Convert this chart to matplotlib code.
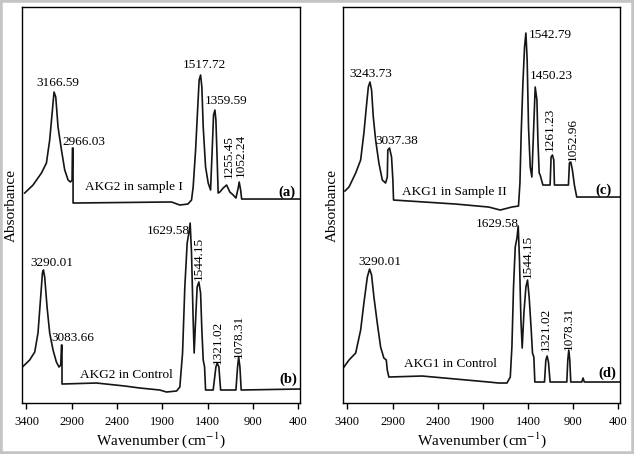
import numpy as np
import matplotlib.pyplot as plt
from matplotlib.patches import Rectangle

plt.rcParams['font.family'] = 'Liberation Serif'
plt.rcParams['mathtext.fontset'] = 'stix'

# (a) AKG2 in sample I
wn_a = [3419, 3327, 3234, 3179, 3143, 3113, 3095, 3076, 3051, 3013, 2977, 2940, 2914, 2896,
        2892, 2885, 2885, 1854, 1798, 1707, 1618, 1578, 1560, 1533, 1511, 1494, 1478, 1464,
        1449, 1423, 1394, 1368, 1350, 1335, 1320, 1309, 1295, 1284, 1265, 1229, 1191, 1155,
        1118, 1088, 1063, 1052, 1036, 1025, 381]
ab_a = [2.10, 2.18, 2.30, 2.40, 2.63, 2.93, 3.11, 3.06, 2.76, 2.53, 2.33, 2.23, 2.21, 2.23,
        2.55, 2.55, 2.00, 2.01, 2.01, 1.98, 1.99, 2.03, 2.16, 2.53, 2.93, 3.23, 3.28, 3.16,
        2.76, 2.36, 2.20, 2.13, 2.53, 2.88, 2.93, 2.83, 2.43, 2.10, 2.11, 2.15, 2.18, 2.11,
        2.08, 2.05, 2.15, 2.21, 2.13, 2.04, 2.04]

# (b) AKG2 in Control
wn_b = [3444, 3364, 3308, 3272, 3245, 3223, 3212, 3198, 3172, 3143, 3106, 3069, 3040, 3021,
        3013, 3007, 3007, 2627, 2314, 2149, 1928, 1854, 1743, 1707, 1677, 1652, 1626, 1607,
        1593, 1578, 1560, 1549, 1533, 1516, 1497, 1478, 1464, 1449, 1434, 1423, 1339, 1309,
        1295, 1276, 1257, 1088, 1070, 1058, 1044, 1030, 389]
ab_b = [0.36, 0.43, 0.51, 0.70, 1.03, 1.30, 1.33, 1.26, 0.96, 0.70, 0.53, 0.41, 0.36, 0.38,
        0.58, 0.58, 0.19, 0.20, 0.17, 0.15, 0.13, 0.11, 0.12, 0.16, 0.50, 1.16, 1.60, 1.70,
        1.80, 1.50, 0.83, 0.50, 0.83, 1.16, 1.21, 1.10, 0.73, 0.43, 0.36, 0.13, 0.13, 0.36,
        0.40, 0.36, 0.13, 0.13, 0.36, 0.46, 0.36, 0.13, 0.14]

# (c) AKG1 in Sample II
wn_c = [3427, 3382, 3308, 3253, 3217, 3190, 3168, 3150, 3132, 3113, 3087, 3051, 3013, 2977,
        2958, 2952, 2933, 2911, 2896, 2889, 2204, 1836, 1707, 1578, 1505, 1489, 1475, 1456,
        1438, 1423, 1409, 1394, 1375, 1357, 1339, 1320, 1301, 1290, 1276, 1265, 1235, 1155,
        1144, 1129, 1114, 1107, 952, 941, 926, 908, 886, 860, 370]
ab_c = [2.12, 2.16, 2.30, 2.43, 2.70, 2.96, 3.16, 3.21, 3.13, 2.86, 2.63, 2.40, 2.23, 2.20,
        2.26, 2.53, 2.55, 2.46, 2.23, 2.03, 1.99, 1.96, 1.93, 1.96, 1.97, 2.20, 2.70, 3.20,
        3.56, 3.70, 3.43, 2.76, 2.36, 2.26, 2.70, 3.16, 3.03, 2.63, 2.30, 2.28, 2.18, 2.18,
        2.46, 2.48, 2.43, 2.18, 2.18, 2.40, 2.41, 2.33, 2.18, 2.06, 2.06]

# (d) AKG1 in Control
wn_d = [3438, 3382, 3308, 3253, 3217, 3179, 3154, 3132, 3106, 3069, 3032, 2996, 2969, 2958,
        2941, 2572, 2204, 1836, 1726, 1633, 1596, 1578, 1560, 1541, 1522, 1508, 1494, 1478,
        1464, 1445, 1423, 1405, 1387, 1364, 1350, 1335, 1324, 1217, 1202, 1188, 1173, 1155,
        970, 959, 948, 937, 926, 804, 790, 776, 370]
ab_d = [0.36, 0.43, 0.50, 0.73, 1.00, 1.26, 1.34, 1.28, 1.06, 0.80, 0.56, 0.45, 0.43, 0.33,
        0.26, 0.27, 0.24, 0.21, 0.20, 0.20, 0.26, 0.56, 1.16, 1.56, 1.65, 1.77, 1.43, 0.83,
        0.55, 0.90, 1.16, 1.23, 1.06, 0.73, 0.50, 0.46, 0.21, 0.21, 0.43, 0.47, 0.41, 0.21,
        0.21, 0.43, 0.53, 0.43, 0.21, 0.21, 0.25, 0.21, 0.21]

ticks = [3400, 2900, 2400, 1900, 1400, 900, 400]

fig = plt.figure(figsize=(6.34, 4.54), dpi=100)
fig.patches.append(Rectangle((0, 0), 1, 1, transform=fig.transFigure, fill=False,
                             edgecolor='#c4c4c4', linewidth=4))

ax1 = fig.add_axes([0.0352, 0.1123, 0.4380, 0.8722])
ax2 = fig.add_axes([0.5415, 0.1123, 0.4364, 0.8722])

for ax in (ax1, ax2):
    ax.set_xlim(3445, 381)
    ax.set_ylim(0, 3.96)
    ax.set_yticks([])
    ax.set_xticks(ticks)
    ax.tick_params(axis='x', direction='out', length=4, width=1, labelsize=9, pad=5)
    for s in ax.spines.values():
        s.set_linewidth(1)
    ax.set_xlabel('Wavenumber (cm$^{-1}$)', fontsize=11, labelpad=2)
    ax.set_ylabel('Absorbance', fontsize=11, labelpad=3)

ax1.plot(wn_a, ab_a, color='#151515', lw=1.2)
ax1.plot(wn_b, ab_b, color='#151515', lw=1.2)
ax2.plot(wn_c, ab_c, color='#151515', lw=1.2)
ax2.plot(wn_d, ab_d, color='#151515', lw=1.2)

fs = 9.5
kw = dict(fontsize=fs, ha='center', va='center')
kv = dict(fontsize=fs, ha='center', va='center', rotation=90)

# panel (a)/(b) annotations
ax1.text(3051, 3.20, '3166.59', **kw)
ax1.text(2767, 2.61, '2966.03', **kw)
ax1.text(1431, 3.38, '1517.72', **kw)
ax1.text(1199, 3.02, '1359.59', **kw)
ax1.text(1166, 2.46, '1255.45', **kv)
ax1.text(1036, 2.48, '1052.24', **kv)
ax1.text(2215, 2.16, 'AKG2 in sample I', **kw)
ax1.text(528, 2.11, '(a)', fontsize=10.5, fontweight='bold', ha='center', va='center')
ax1.text(3121, 1.40, '3290.01', **kw)
ax1.text(2890, 0.65, '3083.66', **kw)
ax1.text(1839, 1.72, '1629.58', **kw)
ax1.text(1497, 1.45, '1544.15', **kv)
ax1.text(1290, 0.61, '1321.02', **kv)
ax1.text(1055, 0.67, '1078.31', **kv)
ax1.text(2292, 0.28, 'AKG2 in Control', **kw)
ax1.text(514, 0.24, '(b)', fontsize=10.5, fontweight='bold', ha='center', va='center')

# panel (c)/(d) annotations
ax2.text(3143, 3.29, '3243.73', **kw)
ax2.text(2850, 2.62, '3037.38', **kw)
ax2.text(1155, 3.68, '1542.79', **kw)
ax2.text(1144, 3.27, '1450.23', **kw)
ax2.text(1162, 2.74, '1261.23', **kv)
ax2.text(908, 2.64, '1052.96', **kv)
ax2.text(2215, 2.11, 'AKG1 in Sample II', **kw)
ax2.text(569, 2.13, '(c)', fontsize=10.5, fontweight='bold', ha='center', va='center')
ax2.text(3036, 1.41, '3290.01', **kw)
ax2.text(1743, 1.79, '1629.58', **kw)
ax2.text(1405, 1.47, '1544.15', **kv)
ax2.text(1199, 0.74, '1321.02', **kv)
ax2.text(945, 0.75, '1078.31', **kv)
ax2.text(2262, 0.39, 'AKG1 in Control', **kw)
ax2.text(518, 0.30, '(d)', fontsize=10.5, fontweight='bold', ha='center', va='center')

plt.savefig('out.png', dpi=100)
